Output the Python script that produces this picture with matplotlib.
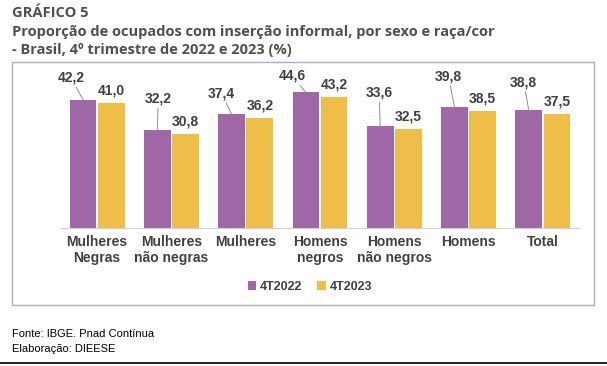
import matplotlib.pyplot as plt
from matplotlib.patches import Rectangle
from matplotlib.lines import Line2D
import numpy as np

categories = ['Mulheres\nNegras', 'Mulheres\nnão negras', 'Mulheres', 'Homens\nnegros',
              'Homens\nnão negros', 'Homens', 'Total']
v2022 = [42.2, 32.2, 37.4, 44.6, 33.6, 39.8, 38.8]
v2023 = [41.0, 30.8, 36.2, 43.2, 32.5, 38.5, 37.5]
series_names = ['4T2022', '4T2023']

# hand-placed label offsets (pixels) for the 2022 labels, as in the original
lab_dx = [-12, 1, -10, -14, -1, -6, -5]
lab_dy = [22, 32, 21, 17, 33, 31, 28]

purple = '#a067a6'
yellow = '#eebe48'
txt = '#404040'

plt.rcParams['font.family'] = ['Liberation Sans', 'DejaVu Sans']

fig = plt.figure(figsize=(6.07, 3.66), dpi=100)
W, H = 607, 366

# outer frame around the chart
fig.add_artist(Rectangle((12 / W, 1 - 305 / H), 582 / W, 243 / H, transform=fig.transFigure,
                         fill=False, edgecolor='#b0abc6', linewidth=1.0))
# bottom rule
fig.add_artist(Line2D([0, 1], [1 - 363 / H, 1 - 363 / H], transform=fig.transFigure,
                      color='black', linewidth=1.2))

ax = fig.add_axes([60 / W, 1 - 228 / H, 520 / W, 152 / H])
x = np.arange(len(categories))
w = 0.36
ax.bar(x - 0.19, v2022, w, color=purple, label=series_names[0])
ax.bar(x + 0.19, v2023, w, color=yellow, label=series_names[1])
ax.set_xlim(-0.5, len(categories) - 0.5)
ax.set_ylim(0, 50)

for i in range(len(categories)):
    ax.annotate(f'{v2022[i]:.1f}'.replace('.', ','), xy=(x[i] - 0.19, v2022[i]),
                xytext=(lab_dx[i], lab_dy[i]), textcoords='offset pixels', ha='center', va='center',
                fontsize=10, fontweight='bold', color=txt,
                arrowprops=dict(arrowstyle='-', color='#909090', lw=0.7, shrinkA=0, shrinkB=0))
    ax.annotate(f'{v2023[i]:.1f}'.replace('.', ','), xy=(x[i] + 0.19, v2023[i]),
                xytext=(0, 4), textcoords='offset points', ha='center', va='bottom',
                fontsize=10, fontweight='bold', color=txt)

ax.set_xticks(x)
ax.set_xticklabels(categories, fontsize=10, fontweight='bold', color=txt, linespacing=1.15)
ax.tick_params(axis='x', length=0, pad=5)
ax.set_yticks([])
for s in ['top', 'right', 'left']:
    ax.spines[s].set_visible(False)
ax.spines['bottom'].set_color('#d0d0d0')
ax.set_facecolor('none')

leg = fig.legend(loc='center', bbox_to_anchor=(310 / W, 1 - 287 / H), ncol=2, frameon=False,
                 prop={'weight': 'bold', 'size': 9}, handlelength=0.7, handleheight=0.7,
                 handletextpad=0.3, columnspacing=1.2)
for t in leg.get_texts():
    t.set_color(txt)

fig.text(12 / W, 1 - 13 / H, 'GRÁFICO 5', fontsize=10.5, fontweight='bold', color='#505050',
         family=['Open Sans', 'DejaVu Sans'], va='center')
fig.text(12 / W, 1 - 32 / H, 'Proporção de ocupados com inserção informal, por sexo e raça/cor',
         fontsize=10.5, fontweight='bold', color='#505050', family=['Open Sans', 'DejaVu Sans'], va='center')
fig.text(12 / W, 1 - 50 / H, '- Brasil, 4º trimestre de 2022 e 2023 (%)',
         fontsize=10.5, fontweight='bold', color='#505050', family=['Open Sans', 'DejaVu Sans'], va='center')

fig.text(12 / W, 1 - 334 / H, 'Fonte: IBGE. Pnad Contínua', fontsize=8, color='black', va='center')
fig.text(12 / W, 1 - 349 / H, 'Elaboração: DIEESE', fontsize=8, color='black', va='center')

fig.savefig('out.png', dpi=100, facecolor='white')
